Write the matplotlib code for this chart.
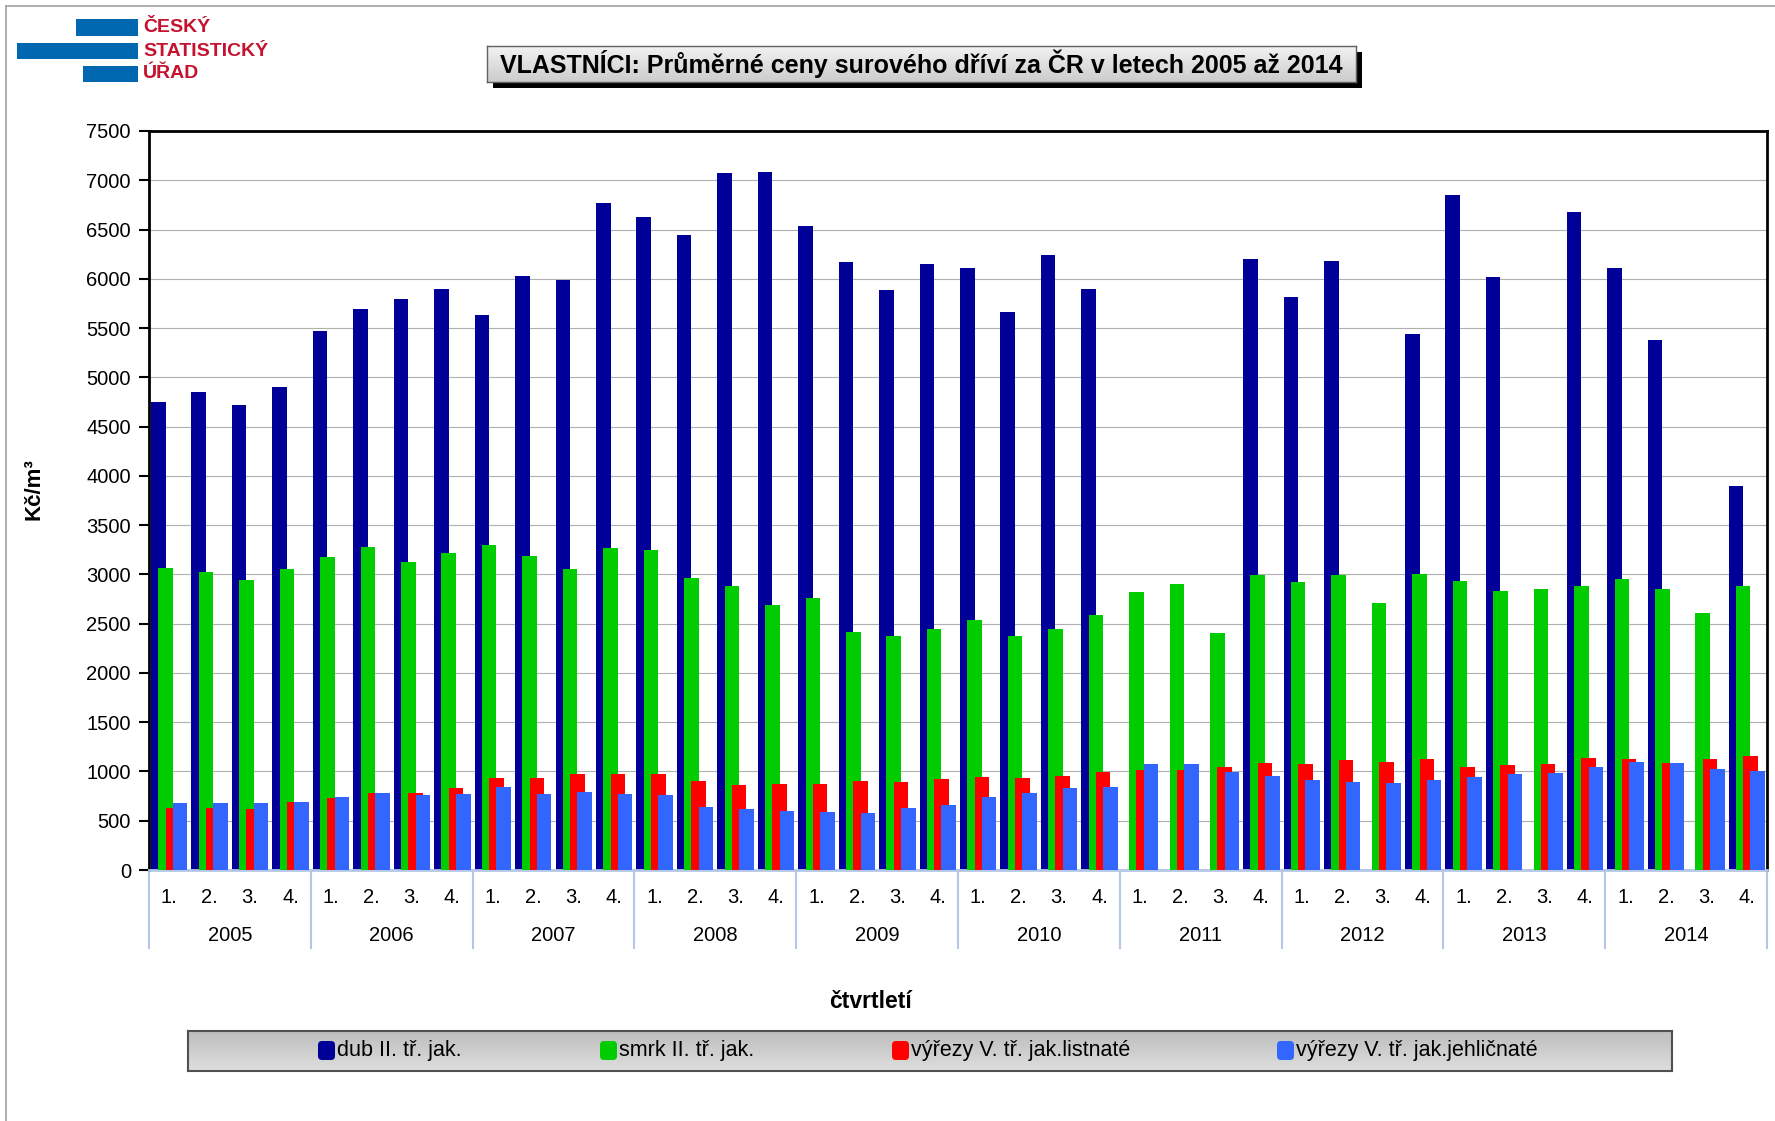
import numpy as np
import matplotlib.pyplot as plt
from matplotlib.patches import Rectangle, FancyBboxPatch
from matplotlib.colors import LinearSegmentedColormap

plt.rcParams['font.family'] = ['Liberation Sans', 'DejaVu Sans']

# data (Kč/m3), quarters 2005 Q1 .. 2014 Q4
years = ['2005', '2006', '2007', '2008', '2009', '2010', '2011', '2012', '2013', '2014']
quarters = ['1.', '2.', '3.', '4.']

dub = [4750, 4850, 4720, 4900,
       5470, 5690, 5790, 5900,
       5630, 6030, 5990, 6770,
       6630, 6440, 7070, 7080,
       6540, 6170, 5890, 6150,
       6110, 5660, 6240, 5900,
       0, 0, 0, 6200,
       5820, 6180, 0, 5440,
       6850, 6020, 0, 6680,
       6110, 5380, 0, 3900]
smrk = [3060, 3020, 2940, 3050,
        3180, 3280, 3130, 3220,
        3300, 3190, 3050, 3270,
        3250, 2960, 2880, 2690,
        2760, 2420, 2370, 2450,
        2540, 2370, 2450, 2590,
        2820, 2905, 2410, 2995,
        2925, 2995, 2705, 3000,
        2935, 2830, 2850, 2885,
        2955, 2855, 2610, 2885]
listnate = [625, 625, 620, 695,
            730, 785, 785, 835,
            935, 930, 975, 970,
            970, 905, 865, 875,
            875, 900, 895, 920,
            945, 935, 950, 995,
            1010, 1010, 1050, 1085,
            1075, 1115, 1095, 1125,
            1045, 1070, 1080, 1140,
            1125, 1090, 1125, 1155]
jehlicnate = [680, 685, 680, 695,
              740, 780, 760, 775,
              840, 775, 795, 768,
              763, 636, 616, 601,
              586, 576, 631, 657,
              742, 783, 828, 838,
              1071, 1071, 990, 955,
              914, 894, 879, 909,
              939, 970, 985, 1050,
              1096, 1086, 1030, 1005]

labels = ['dub II. tř. jak.', 'smrk II. tř. jak.',
          'výřezy V. tř. jak.listnaté', 'výřezy V. tř. jak.jehličnaté']
colors = ['#000099', '#00cc00', '#ff0000', '#3366ff']

W, H = 1775, 1121
fig = plt.figure(figsize=(W / 100, H / 100), dpi=100)

# outer frame (top and left only visible)
fig.add_artist(plt.Line2D([6 / W, 1], [1 - 6 / H, 1 - 6 / H], color='#a0a0a0', lw=1.2))
fig.add_artist(plt.Line2D([6 / W, 6 / W], [0, 1 - 6 / H], color='#a0a0a0', lw=1.2))

# logo
logo_blue = '#0067b1'
for x0, x1, y0, y1 in [(76, 138, 19, 36), (17, 138, 43, 59), (83, 138, 66, 82)]:
    fig.add_artist(Rectangle((x0 / W, 1 - y1 / H), (x1 - x0) / W, (y1 - y0) / H,
                             transform=fig.transFigure, color=logo_blue, lw=0))
for txt, yc in [('ČESKÝ', 28), ('STATISTICKÝ', 51), ('ÚŘAD', 74)]:
    fig.text(143 / W, 1 - yc / H, txt, color='#c4122f', fontsize=14, fontweight='bold',
             family=['Liberation Sans Narrow', 'Liberation Sans', 'DejaVu Sans'],
             ha='left', va='center')

# title box with shadow
fig.add_artist(Rectangle((493 / W, 1 - 88 / H), 869 / W, 36 / H,
                         transform=fig.transFigure, color='black', lw=0, zorder=-1))
tax = fig.add_axes([487 / W, 1 - 82 / H, 869 / W, 36 / H])
tax.set_zorder(5)
grad = np.linspace(0, 1, 50).reshape(-1, 1)
tax.imshow(grad, aspect='auto', cmap=LinearSegmentedColormap.from_list(
    't', ['#f2f2f2', '#cccccc']), extent=[0, 1, 0, 1])
tax.set_xticks([])
tax.set_yticks([])
for s in tax.spines.values():
    s.set_color('#606060')
    s.set_linewidth(1)
tax.text(0.5, 0.5, 'VLASTNÍCI: Průměrné ceny surového dříví za ČR v letech 2005 až 2014',
         ha='center', va='center', fontsize=18, fontweight='bold', transform=tax.transAxes)

# main axes
ax = fig.add_axes([149 / W, 1 - 870 / H, (1767 - 149) / W, (870 - 131) / H])
n = len(dub)
x = np.arange(n)
offsets = [-0.27, -0.09, 0.09, 0.27]
for k, vals in enumerate([dub, smrk, listnate, jehlicnate]):
    ax.bar(x + offsets[k], vals, width=0.36, color=colors[k], label=labels[k], zorder=2 + k)

ax.set_xlim(-0.5, n - 0.5)
ax.set_ylim(0, 7500)
ax.set_yticks(range(0, 7501, 500))
ax.set_xticks([])
ax.tick_params(axis='y', direction='out', length=7, width=1.5, labelsize=14.5, pad=6)
ax.yaxis.grid(True, color='#b0b0b0', lw=0.8)
ax.set_axisbelow(True)
for side in ['left', 'top', 'right']:
    ax.spines[side].set_color('black')
    ax.spines[side].set_linewidth(2)
ax.spines['bottom'].set_color('#b4c7e7')
ax.spines['bottom'].set_linewidth(2)

# two-level category axis
tr = ax.get_xaxis_transform()
for i in range(n):
    ax.text(i, -0.037, quarters[i % 4], transform=tr, ha='center', va='center', fontsize=14.5)
for j, yr in enumerate(years):
    ax.text(j * 4 + 1.5, -0.088, yr, transform=tr, ha='center', va='center', fontsize=14.5)
for j in range(len(years) + 1):
    ax.plot([j * 4 - 0.5] * 2, [0, -0.106], transform=tr, clip_on=False,
            color='#b4c7e7', lw=1.5)

fig.text(34 / W, 1 - 489 / H, 'Kč/m³', rotation=90, fontsize=16, fontweight='bold',
         ha='center', va='center')
fig.text(870 / W, 1 - 1001 / H, 'čtvrtletí', fontsize=16.5, fontweight='bold',
         ha='center', va='center')

# legend box
lax = fig.add_axes([188 / W, 1 - 1071 / H, (1672 - 188) / W, 40 / H])
lax.imshow(grad, aspect='auto', cmap=LinearSegmentedColormap.from_list(
    'l', ['#bdbdbd', '#dedede']), extent=[188, 1672, 1071, 1031])
lax.set_xlim(188, 1672)
lax.set_ylim(1071, 1031)
lax.set_xticks([])
lax.set_yticks([])
for s in lax.spines.values():
    s.set_color('#505050')
    s.set_linewidth(1.5)
for mx, c, lab in zip([318, 600, 892, 1277], colors, labels):
    lax.add_patch(FancyBboxPatch((mx, 1041), 17, 19, boxstyle='round,pad=0,rounding_size=4',
                                 facecolor=c, edgecolor='none'))
    lax.text(mx + 19, 1050.5, lab, ha='left', va='center', fontsize=15.5)

fig.savefig('out.png', dpi=100)
